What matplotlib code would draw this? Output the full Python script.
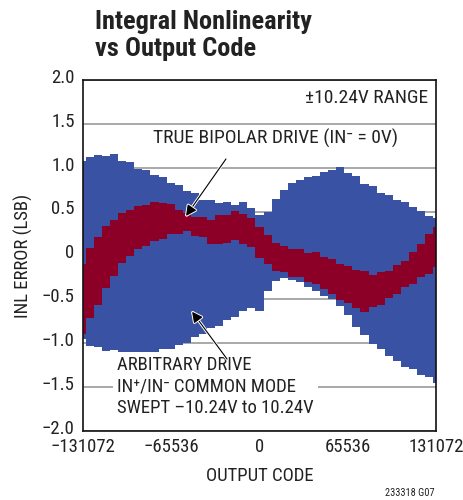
import numpy as np
import matplotlib
matplotlib.use('Agg')
import matplotlib.pyplot as plt
import matplotlib.patheffects as pe
import matplotlib.transforms as mtransforms
import logging
logging.getLogger('matplotlib.font_manager').setLevel(logging.ERROR)

# output code sample positions
codes = [-131072, -126000, -120000, -114000, -108000, -102000, -96000, -90000,
         -84000, -78000, -72000, -66000, -60000, -54000, -48000, -42000,
         -36000, -30000, -24000, -18000, -12000, -6000, 0, 6000, 12000,
         18000, 24000, 30000, 36000, 42000, 48000, 54000, 60000, 66000,
         72000, 78000, 84000, 90000, 96000, 102000, 108000, 114000, 120000,
         126000, 131072]

# arbitrary drive (common mode swept) envelope
arb_hi = [1.08, 1.12, 1.15, 1.13, 1.16, 1.08, 1.06, 0.99, 0.98, 0.92,
          0.89, 0.83, 0.80, 0.73, 0.71, 0.63, 0.63, 0.60, 0.61, 0.58,
          0.61, 0.54, 0.46, 0.50, 0.64, 0.75, 0.83, 0.86, 0.90, 0.91,
          0.95, 0.97, 1.01, 0.94, 0.91, 0.82, 0.79, 0.71, 0.69, 0.63,
          0.61, 0.55, 0.51, 0.45, 0.43]
arb_lo = [-0.95, -1.03, -1.04, -1.09, -1.08, -1.12, -1.11, -1.14, -1.11, -1.10,
          -1.07, -1.07, -1.02, -1.00, -0.93, -0.89, -0.83, -0.80, -0.73, -0.70,
          -0.63, -0.60, -0.63, -0.40, -0.29, -0.26, -0.28, -0.30, -0.36, -0.40,
          -0.46, -0.50, -0.58, -0.68, -0.81, -0.91, -1.01, -1.06, -1.15, -1.20,
          -1.27, -1.29, -1.36, -1.39, -1.45]

# true bipolar drive (IN- = 0V) envelope
bip_hi = [-0.10, 0.09, 0.21, 0.34, 0.41, 0.49, 0.52, 0.56, 0.57, 0.61,
          0.60, 0.59, 0.52, 0.49, 0.44, 0.44, 0.41, 0.46, 0.46, 0.51,
          0.47, 0.43, 0.32, 0.23, 0.14, 0.11, 0.07, 0.07, 0.03, 0.04,
          -0.02, -0.04, -0.10, -0.12, -0.17, -0.18, -0.22, -0.19, -0.18, -0.11,
          -0.06, 0.04, 0.13, 0.25, 0.33]
bip_lo = [-0.90, -0.71, -0.56, -0.37, -0.23, -0.09, -0.01, 0.07, 0.11, 0.17,
          0.19, 0.24, 0.25, 0.28, 0.22, 0.21, 0.13, 0.13, 0.14, 0.18,
          0.13, 0.10, -0.03, -0.10, -0.18, -0.19, -0.24, -0.25, -0.30, -0.32,
          -0.38, -0.44, -0.51, -0.54, -0.60, -0.64, -0.59, -0.56, -0.48, -0.44,
          -0.36, -0.32, -0.25, -0.21, -0.13]

xticks = [-131072, -65536, 0, 65536, 131072]
xtick_labels = ['\u2212131072', '\u221265536', '0', '65536', '131072']
yticks = [-2.0, -1.5, -1.0, -0.5, 0, 0.5, 1.0, 1.5, 2.0]
ytick_labels = ['\u22122.0', '\u22121.5', '\u22121.0', '\u22120.5', '0',
                '0.5', '1.0', '1.5', '2.0']

blue = '#3a52a3'
red = '#8c0028'
plt.rcParams['font.family'] = ['Nimbus Sans Narrow', 'Roboto Condensed',
                               'Archivo Narrow', 'DejaVu Sans']

fig = plt.figure(figsize=(4.64, 5.0), dpi=100)
ax = fig.add_axes([83 / 464, 1 - 431 / 500, 353 / 464, 351 / 500])

ax.fill_between(codes, arb_lo, arb_hi, step='mid', color=blue, lw=0, zorder=2)
ax.fill_between(codes, bip_lo, bip_hi, step='mid', color=red, lw=0, zorder=3)

ax.set_xlim(-131072, 131072)
ax.set_ylim(-2.0, 2.0)
ax.set_xticks(xticks)
ax.set_xticklabels(xtick_labels)
ax.set_yticks(yticks)
ax.set_yticklabels(ytick_labels)
ax.tick_params(length=0, labelsize=13.5, colors='#222222', pad=6)
ax.tick_params(axis='x', pad=5)
# y labels sit a little above their gridlines in the original
shift = mtransforms.ScaledTranslation(0, 3 / 72, fig.dpi_scale_trans)
for lab in ax.get_yticklabels():
    lab.set_transform(lab.get_transform() + shift)
ax.grid(True, axis='y', color='#999999', lw=1.2, zorder=1)
ax.set_axisbelow(True)
for s in ax.spines.values():
    s.set_linewidth(1.2)
    s.set_color('#111111')
    s.set_zorder(5)

ax.set_xlabel('OUTPUT CODE', fontsize=13.5, color='#222222', labelpad=8)
ax.set_ylabel('INL ERROR (LSB)', fontsize=13.5, color='#222222', labelpad=6)

fig.text(95 / 464, 1 - 10 / 500, 'Integral Nonlinearity\nvs Output Code',
         fontsize=19, fontweight='bold', color='#222222', ha='left', va='top',
         linespacing=1.15)
fig.text(435 / 464, 1 - 493 / 500, '233318 G07', fontsize=7.5, color='#222222',
         ha='right', va='center')

ax.text(0.978, 0.95, '\u00b110.24V RANGE', transform=ax.transAxes, fontsize=14,
        ha='right', va='center', color='#222222', zorder=6)
ax.text(0.546, 0.833, 'TRUE BIPOLAR DRIVE (IN\u207b = 0V)', transform=ax.transAxes,
        fontsize=14, ha='center', va='center', color='#222222', zorder=6,
        bbox=dict(facecolor='white', edgecolor='none', pad=3))
ax.text(0.097, 0.127, 'ARBITRARY DRIVE\nIN\u207a/IN\u207b COMMON MODE\nSWEPT \u201310.24V to 10.24V',
        transform=ax.transAxes, fontsize=13.5, ha='left', va='center',
        color='#222222', zorder=6, linespacing=1.22,
        bbox=dict(facecolor='white', edgecolor='none', pad=3))

arrow = dict(arrowstyle='-|>', color='black', lw=0.8, mutation_scale=16,
             shrinkA=0, shrinkB=0,
             path_effects=[pe.Stroke(linewidth=2.2, foreground='white'), pe.Normal()])
ax.annotate('', xy=(-54600, 0.45), xytext=(-24900, 1.10), arrowprops=arrow, zorder=7)
ax.annotate('', xy=(-50100, -0.64), xytext=(-24100, -1.18), arrowprops=arrow, zorder=7)

fig.savefig('out.png', dpi=100)
